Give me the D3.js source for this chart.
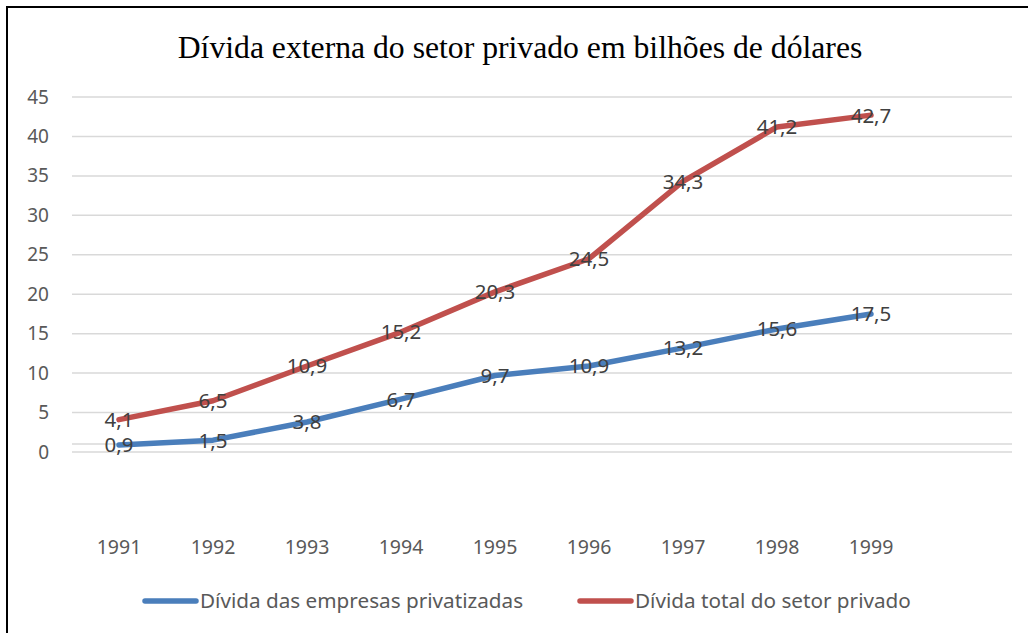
<!DOCTYPE html>
<html>
<head>
<meta charset="utf-8">
<script src="https://d3js.org/d3.v7.min.js"></script>
<style>
  body { margin: 0; background: #fff; }
  svg { display: block; }
</style>
</head>
<body>
<div id="chart"></div>
<script>
// dados do gráfico
const years = ['1991', '1992', '1993', '1994', '1995', '1996', '1997', '1998', '1999'];
const privatizadas = [0.9, 1.5, 3.8, 6.7, 9.7, 10.9, 13.2, 15.6, 17.5];
const totalPrivado = [4.1, 6.5, 10.9, 15.2, 20.3, 24.5, 34.3, 41.2, 42.7];
const yTicks = [0, 5, 10, 15, 20, 25, 30, 35, 40, 45];
const seriesNames = ['Dívida das empresas privatizadas', 'Dívida total do setor privado'];
const title = 'Dívida externa do setor privado em bilhões de dólares';

const COLORS = ['#4a7ebb', '#c0504d'];
const sansFont = '"Noto Sans", "Open Sans", sans-serif';

const width = 1028, height = 633;
const plot = { left: 72, right: 1012, top: 97, bottom: 452 };

const svg = d3.select('#chart').append('svg')
    .attr('width', width)
    .attr('height', height);

// moldura (só aparecem a borda esquerda e a de cima)
svg.append('rect')
    .attr('x', 7).attr('y', 7)
    .attr('width', width + 20).attr('height', height + 20)
    .attr('fill', '#fff')
    .attr('stroke', '#000')
    .attr('stroke-width', 2);

// escala x com uma categoria vazia no final, como no original
const xScale = d3.scaleBand()
    .domain(years.concat(['']))
    .range([plot.left, plot.right]);
const xc = d => xScale(d) + xScale.bandwidth() / 2;

const yScale = d3.scaleLinear().domain([0, 45]).range([plot.bottom, plot.top]);

// título
svg.append('text')
    .attr('x', 520).attr('y', 58)
    .attr('text-anchor', 'middle')
    .attr('fill', '#000')
    .style('font-family', '"Liberation Serif", "Times New Roman", serif')
    .style('font-size', '31.7px')
    .text(title);

// linhas de grade
svg.append('g')
    .selectAll('line')
    .data(yTicks)
    .enter()
    .append('line')
    .attr('x1', plot.left).attr('x2', plot.right)
    .attr('y1', d => yScale(d)).attr('y2', d => yScale(d))
    .attr('stroke', '#d9d9d9')
    .attr('stroke-width', 1.5);

// linha do eixo horizontal
svg.append('line')
    .attr('x1', plot.left).attr('x2', plot.right)
    .attr('y1', yScale(1)).attr('y2', yScale(1))
    .attr('stroke', '#d9d9d9')
    .attr('stroke-width', 1.5);

// eixo y
const yAxis = svg.append('g')
    .attr('transform', `translate(${plot.left - 23},0)`)
    .call(d3.axisLeft(yScale).tickValues(yTicks).tickSize(0).tickPadding(0));
yAxis.select('.domain').remove();
yAxis.selectAll('text')
    .attr('fill', '#595959')
    .style('font-family', sansFont)
    .style('font-size', '19px');

// eixo x (rótulos dos anos)
const xAxis = svg.append('g')
    .attr('transform', `translate(0,${plot.bottom + 88})`)
    .call(d3.axisBottom(xScale).tickValues(years).tickSize(0).tickPadding(0));
xAxis.select('.domain').remove();
xAxis.selectAll('text')
    .attr('fill', '#595959')
    .style('font-family', sansFont)
    .style('font-size', '19.5px');

const series = [privatizadas, totalPrivado];

const line = d3.line()
    .x((d, i) => xc(years[i]))
    .y(d => yScale(d));

series.forEach((vals, s) => {
    svg.append('path')
        .datum(vals)
        .attr('d', line)
        .attr('fill', 'none')
        .attr('stroke', COLORS[s])
        .attr('stroke-width', 5.5)
        .attr('stroke-linejoin', 'round')
        .attr('stroke-linecap', 'round');
});

// rótulos de dados
series.forEach(vals => {
    svg.append('g')
        .selectAll('text')
        .data(vals)
        .enter()
        .append('text')
        .attr('x', (d, i) => xc(years[i]))
        .attr('y', d => yScale(d))
        .attr('dy', '0.36em')
        .attr('text-anchor', 'middle')
        .attr('fill', '#404040')
        .style('font-family', sansFont)
        .style('font-size', '20.5px')
        .text(d => d.toFixed(1).replace('.', ','));
});

// legenda
const legendX = [143, 578];
const legend = svg.selectAll('.legend')
    .data(seriesNames)
    .enter()
    .append('g')
    .attr('transform', (d, i) => `translate(${legendX[i]}, 601)`);

legend.append('line')
    .attr('x1', 2).attr('x2', 53)
    .attr('stroke', (d, i) => COLORS[i])
    .attr('stroke-width', 5.5)
    .attr('stroke-linecap', 'round');

legend.append('text')
    .attr('x', 57)
    .attr('dy', '0.36em')
    .attr('fill', '#595959')
    .style('font-family', sansFont)
    .style('font-size', '20.7px')
    .text(d => d);
</script>
</body>
</html>
